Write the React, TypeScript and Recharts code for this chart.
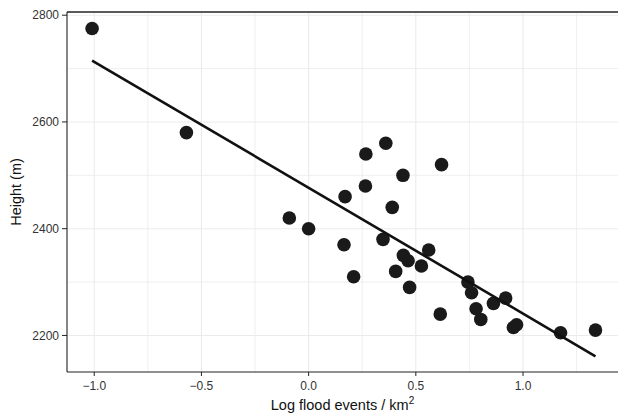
import React from "react";
import {
  ScatterChart,
  Scatter,
  XAxis,
  YAxis,
  ReferenceLine,
} from "recharts";

// flood frequency (log) vs. height
const floodLog = [
  -1.01, -0.57, -0.09, 0.0, 0.165, 0.21, 0.17, 0.265, 0.267, 0.36,
  0.44, 0.39, 0.347, 0.62, 0.442, 0.464, 0.56, 0.526, 0.406, 0.471,
  0.614, 0.743, 0.76, 0.781, 0.803, 0.862, 0.919, 0.955, 0.97, 1.175,
  1.338,
];
const heightM = [
  2775, 2580, 2420, 2400, 2370, 2310, 2460, 2480, 2540, 2560,
  2500, 2440, 2380, 2520, 2350, 2340, 2360, 2330, 2320, 2290,
  2240, 2300, 2280, 2250, 2230, 2260, 2270, 2215, 2220, 2205,
  2210,
];

// fitted line endpoints
const fitX = [-1.01, 1.338];
const fitY = [2715, 2161];

const xTicks = [-1.0, -0.5, 0.0, 0.5, 1.0];
const xMinor = [-0.75, -0.25, 0.25, 0.75, 1.25];
const yTicks = [2200, 2400, 2600, 2800];
const yMinor = [2300, 2500, 2700];

const xDomain = [-1.127, 1.443];
const yDomain = [2131.5, 2806];

const points = floodLog.map((x, i) => ({ x, y: heightM[i] }));
const fitLine = fitX.map((x, i) => ({ x, y: fitY[i] }));

const FONT = "'Liberation Sans', Arial, Helvetica, sans-serif";
const GRID = "#ebebeb";

const fmtX = (v: number) => (v < 0 ? "\u2212" + Math.abs(v).toFixed(1) : v.toFixed(1));

function XTitle(props: any) {
  const vb = props.viewBox || {};
  const cx = vb.x + vb.width / 2;
  return (
    <text x={cx} y={410} textAnchor="middle" fontSize={14.5} fill="#111" fontFamily={FONT}>
      <tspan>Log flood events / km</tspan>
      <tspan dy={-6} fontSize={10}>2</tspan>
    </text>
  );
}

function YTitle(props: any) {
  const vb = props.viewBox || {};
  const cy = vb.y + vb.height / 2;
  return (
    <text
      x={16}
      y={cy}
      transform={`rotate(-90 16 ${cy})`}
      textAnchor="middle"
      dominantBaseline="central"
      fontSize={14.5}
      fill="#111"
      fontFamily={FONT}
    >
      Height (m)
    </text>
  );
}

const Dot = (p: any) => <circle cx={p.cx} cy={p.cy} r={6.8} fill="#1a1a1a" />;

export default function App() {
  return (
    <div style={{ position: "absolute", left: 0, top: 0, background: "#fff" }}>
      <ScatterChart
        width={619}
        height={418}
        margin={{ top: 12, right: 1, bottom: 0, left: 0 }}
      >
        <XAxis
          type="number"
          dataKey="x"
          domain={xDomain}
          ticks={xTicks}
          allowDataOverflow
          height={46}
          tickFormatter={fmtX}
          tickSize={4}
          tickMargin={5}
          tick={{ fontSize: 12, fill: "#333", fontFamily: FONT }}
          axisLine={{ stroke: "#222", strokeWidth: 1.1 }}
          tickLine={{ stroke: "#222" }}
          label={<XTitle />}
        />
        <YAxis
          type="number"
          dataKey="y"
          domain={yDomain}
          ticks={yTicks}
          allowDataOverflow
          width={67}
          tickSize={5}
          tickMargin={3}
          tick={{ fontSize: 12, fill: "#333", fontFamily: FONT }}
          axisLine={{ stroke: "#222", strokeWidth: 1.1 }}
          tickLine={{ stroke: "#222" }}
          label={<YTitle />}
        />
        {xMinor.map((v) => (
          <ReferenceLine key={"xm" + v} x={v} stroke={GRID} strokeWidth={0.8} />
        ))}
        {yMinor.map((v) => (
          <ReferenceLine key={"ym" + v} y={v} stroke={GRID} strokeWidth={0.8} />
        ))}
        {xTicks.map((v) => (
          <ReferenceLine key={"x" + v} x={v} stroke={GRID} strokeWidth={1.1} />
        ))}
        {yTicks.map((v) => (
          <ReferenceLine key={"y" + v} y={v} stroke={GRID} strokeWidth={1.1} />
        ))}
        {/* top panel border */}
        <ReferenceLine y={yDomain[1]} stroke="#222" strokeWidth={1.5} />
        <Scatter data={points} shape={Dot} isAnimationActive={false} />
        <Scatter
          data={fitLine}
          line={{ stroke: "#111", strokeWidth: 2.6 }}
          shape={() => <g />}
          isAnimationActive={false}
        />
      </ScatterChart>
    </div>
  );
}
